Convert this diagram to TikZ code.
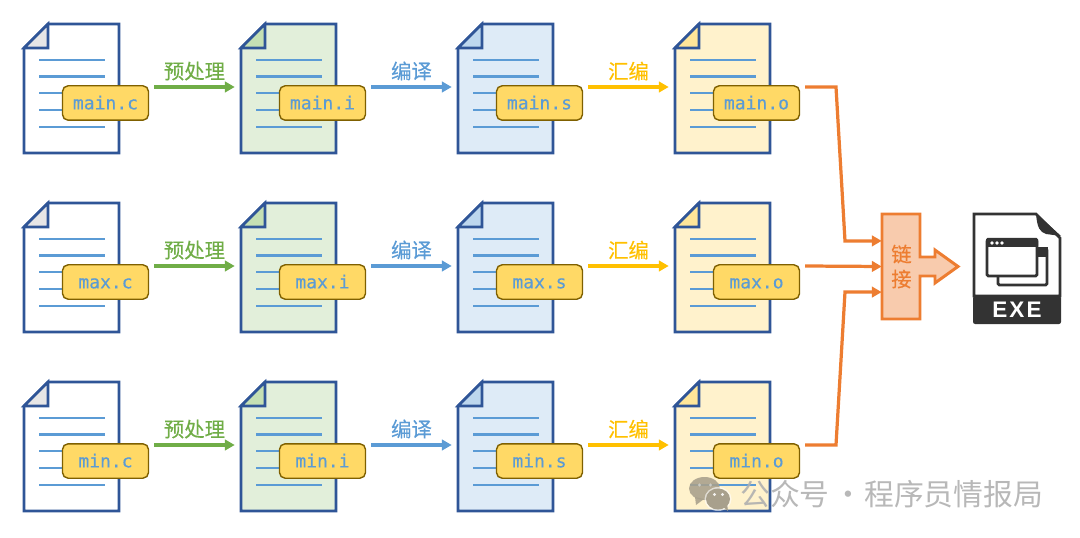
\documentclass[tikz,border=0pt]{standalone}
\usepackage{fontspec}
\usepackage{xcolor}
\setmainfont{Liberation Sans}
\setmonofont[FakeBold=.25]{DejaVu Sans Mono}
\newfontfamily\cjk[FakeBold=.35]{Noto Sans CJK SC}
\newfontfamily\markfont{Noto Sans CJK SC}
\usetikzlibrary{arrows.meta,calc}
\definecolor{docblue}{HTML}{2F5597}
\definecolor{lineblue}{HTML}{5B9BD5}
\definecolor{tagfill}{HTML}{FFD966}
\definecolor{tagline}{HTML}{7F6000}
\definecolor{stepgreen}{HTML}{70AD47}
\definecolor{stepgold}{HTML}{FFC000}
\definecolor{linkline}{HTML}{ED7D31}
\definecolor{linkfill}{HTML}{F8CBAD}
\definecolor{exedark}{HTML}{333333}
\definecolor{foldgray}{HTML}{E7E6E6}
\definecolor{foldgreen}{HTML}{C5E0B4}
\definecolor{foldblue}{HTML}{BDD7EE}
\definecolor{foldgold}{HTML}{FFE699}
\definecolor{bubble}{HTML}{A8A08C}
\tikzset{
    docframe/.style={draw=docblue, line width=1.9pt, line join=miter},
    docrule/.style={draw=lineblue, line width=1.5pt},
    docanchor/.style={inner sep=0pt, minimum width=2.375cm, minimum height=3.225cm},
    tagnode/.style={draw=tagline, fill=tagfill, line width=1pt, rounded corners=4pt, minimum width=2.15cm, minimum height=.86cm, inner sep=0pt, text=lineblue, text height=9pt, text depth=0pt, font=\ttfamily\fontsize{12.8}{12.8}\selectfont},
    steparrow/.style={line width=2.3pt, -{Triangle[length=7pt,width=7.5pt]}},
    steplabel/.style={font=\cjk\fontsize{14.5}{14.5}\selectfont, inner sep=0pt},
    linkarrow/.style={draw=linkline, line width=2.3pt, -{Triangle[length=7pt,width=7.5pt]}},
    marktext/.style={font=\markfont\fontsize{21.2}{21.2}\selectfont, text=gray!62, inner sep=0pt, opacity=.9}
}
\begin{document}
\begin{tikzpicture}[x=0.025cm, y=-0.025cm]
    \useasboundingbox (0, 0) rectangle (1080, 538);
    % three rows of source files, four stages each
    \foreach \rowy/\rowname in {0/main, 179/max, 358/min} {
        \foreach \colx/\ext/\docfill/\foldfill in {0/c/white/foldgray, 217/i/stepgreen!20/foldgreen, 434/s/lineblue!20/foldblue, 651/o/stepgold!20/foldgold} {
            \begin{scope}[shift={(\colx, \rowy)}]
                \node [docanchor] (doc-\rowname-\ext) at (71.5, 88.5) {};
                \draw [docframe, fill=\docfill] (48, 24) -- (119, 24) -- (119, 153) -- (24, 153) -- (24, 48) -- cycle;
                \draw [docframe, fill=\foldfill] (48, 24) -- (48, 48) -- (24, 48) -- cycle;
                \foreach \ruley in {60, 76.5, 93, 110, 127}
                    \draw [docrule] (39, \ruley) -- (105, \ruley);
                \node [tagnode] (tag-\rowname-\ext) at (105.5, 103) {\rowname.\ext};
            \end{scope}
        }
        % arrows between the stages
        \foreach \from/\to/\stepcolor/\steptext in {c/i/stepgreen/预处理, i/s/lineblue/编译, s/o/stepgold/汇编} {
            \draw [steparrow, \stepcolor] ([shift={(5, -1.5)}]tag-\rowname-\from.east |- doc-\rowname-\from.east) -- ([shift={(-6, -1.5)}]doc-\rowname-\to.west)
                node [midway, above=3.5pt, steplabel, text=\stepcolor] {\steptext};
        }
    }
    % link block
    \node [inner sep=0pt, minimum width=.975cm, minimum height=2.65cm] (linkbox) at (901.5, 266.5) {};
    \draw [draw=linkline, fill=linkfill, line width=2.1pt, line join=miter] (882, 214) -- (920, 214) -- (920, 257) -- (935, 257) -- (935, 250) -- (958, 266.5) -- (935, 283) -- (935, 276) -- (920, 276) -- (920, 319) -- (882, 319) -- cycle;
    \node [font=\cjk\fontsize{14.5}{14.5}\selectfont, text=linkline, inner sep=0pt] at (901.5, 254) {链};
    \node [font=\cjk\fontsize{14.5}{14.5}\selectfont, text=linkline, inner sep=0pt] at (901.5, 279) {接};
    \draw [linkarrow] ([shift={(5, -16)}]tag-main-o.east) -- (836, 87) -- (845, 241) -- ([yshift=.64cm]linkbox.west);
    \draw [linkarrow] ([shift={(5, -16)}]tag-max-o.east) -- (linkbox.west);
    \draw [linkarrow] ([shift={(5, -16)}]tag-min-o.east) -- (836, 445) -- (845, 292) -- ([yshift=-.64cm]linkbox.west);
    % exe icon
    \fill [exedark, rounded corners=1.5pt] (973, 296) -- (1061, 296) -- (1061, 324) -- (973, 324) -- cycle;
    \draw [exedark, line width=2pt, fill=white] (974, 296) -- (974, 214) -- (1036, 214) -- (1060, 238) -- (1060, 296) -- cycle;
    \fill [exedark] (1036, 213) -- (1061, 236) -- (1046, 234) .. controls (1040, 232) and (1037, 228) .. cycle;
    \draw [exedark, line width=2pt, fill=white, rounded corners=1pt] (998, 249) rectangle (1047, 285);
    \fill [exedark] (1030, 247) rectangle (1048, 257);
    \draw [exedark, line width=2pt, fill=white, rounded corners=1pt] (987, 240) rectangle (1037, 276);
    \fill [exedark, rounded corners=1pt] (986, 238) rectangle (1038, 247);
    \foreach \dotx in {992, 997, 1002}
        \fill [white] (\dotx, 243) circle [radius=1.8];
    \node [font=\bfseries\fontsize{16}{16}\selectfont, text=white, inner sep=0pt] at (1017, 310) {E\hspace{1.5pt}X\hspace{1.5pt}E};
    % watermark
    \fill [bubble, opacity=.88] (704.5, 488.5) ellipse [x radius=15.5, y radius=11.5];
    \fill [bubble, opacity=.88] (695, 497) -- (696, 505) -- (704, 499) -- cycle;
    \fill [white, opacity=.6] (718, 499) ellipse [x radius=13.5, y radius=12];
    \fill [bubble] (718, 499) ellipse [x radius=12, y radius=10.5];
    \fill [bubble] (722, 506) -- (728, 511) -- (727, 503) -- cycle;
    \foreach \dotx in {714.5, 722.5}
        \fill [white!85!bubble] (\dotx, 494.5) circle [radius=1.6];
    \foreach \dotx in {699.5, 710.5}
        \fill [white, opacity=.45] (\dotx, 485) circle [radius=1.7];
    \node [marktext, anchor=west] (markleft) at (740, 494) {公众号};
    \node [marktext] (markdot) at (848, 498) {·};
    \node [marktext, anchor=west] (markright) at (864, 494) {程序员情报局};
\end{tikzpicture}
\end{document}
